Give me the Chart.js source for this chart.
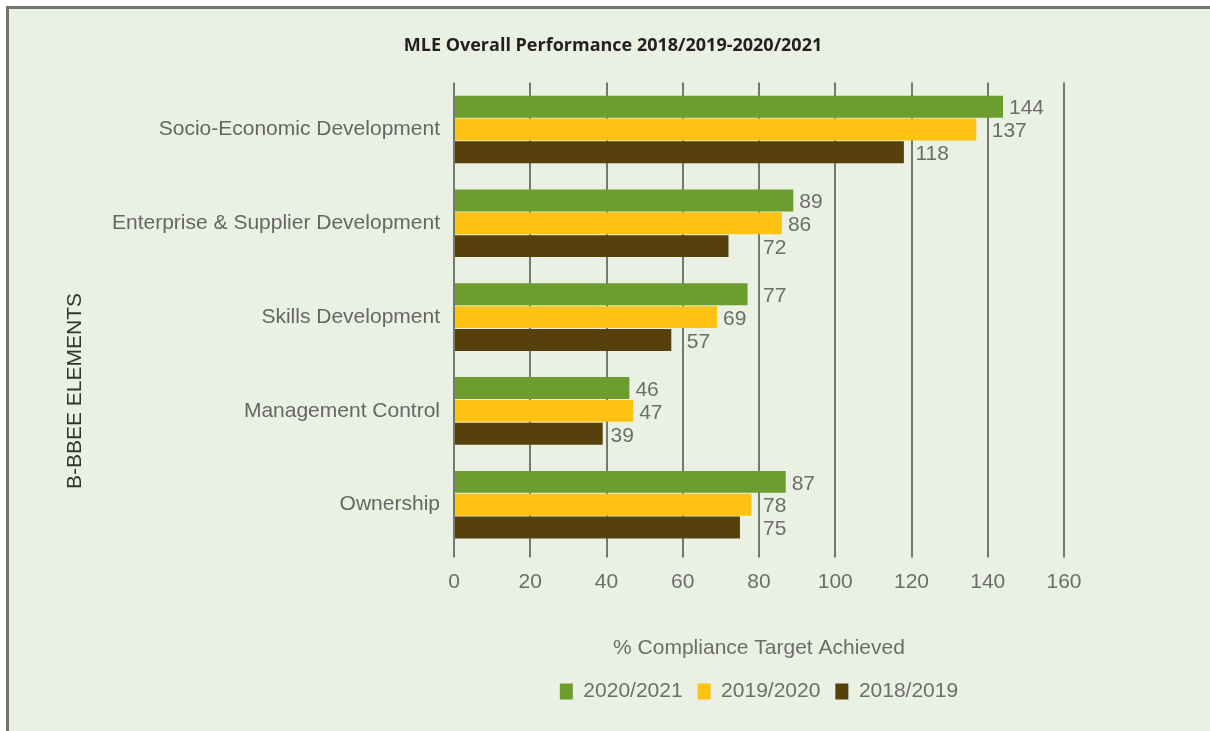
<!DOCTYPE html>
<html>
<head>
<meta charset="utf-8">
<script src="https://cdn.jsdelivr.net/npm/chart.js@4"></script>
<style>
  body { margin: 0; background: #fff; }
  #frame {
    position: absolute; left: 6px; top: 6px; width: 1204px; height: 725px;
    border-top: 3px solid #727272; border-left: 3px solid #727272;
    background: #eaf0e2; box-sizing: border-box;
  }
  #chart { position: absolute; left: 0; top: 0; }
</style>
</head>
<body>
<div id="frame"></div>
<canvas id="chart" width="1210" height="731"></canvas>
<script>
const elements = ['Socio-Economic Development', 'Enterprise & Supplier Development', 'Skills Development', 'Management Control', 'Ownership'];
const years = ['2020/2021', '2019/2020', '2018/2019'];
const values2021 = [144, 89, 77, 46, 87];
const values2020 = [137, 86, 69, 47, 78];
const values2019 = [118, 72, 57, 39, 75];
const colors = ['#6b9e2f', '#fec312', '#57400b'];
const xTicks = [0, 20, 40, 60, 80, 100, 120, 140, 160];
const yTitle = 'B-BBEE ELEMENTS';

const sans = '"Liberation Sans", Arial, sans-serif';
const grey = '#6d6d6d';

// value labels at the end of each bar, nudged past a grid line when they would sit on it
const barLabels = {
    id: 'barLabels',
    afterDatasetsDraw(chart) {
        const ctx = chart.ctx;
        const xScale = chart.scales.x;
        const lines = xTicks.map(v => xScale.getPixelForValue(v));
        ctx.save();
        ctx.font = '21px ' + sans;
        ctx.fillStyle = grey;
        ctx.textAlign = 'left';
        ctx.textBaseline = 'middle';
        chart.data.datasets.forEach((ds, i) => {
            chart.getDatasetMeta(i).data.forEach((bar, j) => {
                const text = String(ds.data[j]);
                const w = ctx.measureText(text).width;
                let x = bar.x + 6;
                const hit = lines.find(g => g > x - 3 && g < x + w + 2);
                if (hit !== undefined) x = hit + 4;
                ctx.fillText(text, x, bar.y + 2);
            });
        });
        ctx.restore();
    }
};

// the vertical axis title sits lower than the middle of the axis in the original
const sideTitle = {
    id: 'sideTitle',
    afterDraw(chart) {
        const ctx = chart.ctx;
        ctx.save();
        ctx.translate(75, 391);
        ctx.rotate(-Math.PI / 2);
        ctx.font = '21px ' + sans;
        ctx.fillStyle = '#333';
        ctx.textAlign = 'center';
        ctx.textBaseline = 'middle';
        ctx.fillText(yTitle, 0, 0);
        ctx.restore();
    }
};

const ctx = document.getElementById('chart').getContext('2d');
new Chart(ctx, {
    type: 'bar',
    data: {
        labels: elements,
        datasets: [
            { label: years[0], data: values2021, backgroundColor: colors[0] },
            { label: years[1], data: values2020, backgroundColor: colors[1] },
            { label: years[2], data: values2019, backgroundColor: colors[2] }
        ]
    },
    options: {
        indexAxis: 'y',
        responsive: false,
        animation: false,
        categoryPercentage: 0.73,
        barPercentage: 0.96,
        layout: { padding: { left: 16, right: 0, top: 21, bottom: 19 } },
        scales: {
            x: {
                min: 0,
                max: 160,
                afterBuildTicks: (scale) => { scale.ticks = xTicks.map(v => ({ value: v })); },
                grid: { color: '#777', lineWidth: 2, tickLength: 6, drawTicks: true },
                border: { display: false },
                ticks: { color: grey, padding: 12, font: { size: 21, family: sans } },
                title: {
                    display: true,
                    text: '% Compliance Target Achieved',
                    color: grey,
                    font: { size: 21, family: sans },
                    padding: { top: 29, bottom: 5 }
                }
            },
            y: {
                afterFit: (scale) => { scale.width = 438; },
                grid: { display: false, drawTicks: false },
                border: { display: false },
                ticks: { color: '#666', padding: 14, font: { size: 21, family: sans } }
            },
            pad: {
                axis: 'y',
                type: 'linear',
                position: 'right',
                afterFit: (scale) => { scale.width = 146; },
                grid: { display: false, drawTicks: false },
                border: { display: false },
                ticks: { display: false }
            }
        },
        plugins: {
            title: {
                display: true,
                text: 'MLE Overall Performance 2018/2019-2020/2021',
                color: '#231f20',
                font: { size: 18, weight: 'bold', family: '"Open Sans", sans-serif' },
                padding: { top: 14, bottom: 26 }
            },
            legend: {
                position: 'bottom',
                fullSize: false,
                labels: {
                    boxWidth: 13,
                    boxHeight: 16,
                    padding: 15,
                    color: grey,
                    font: { size: 21, family: sans }
                }
            },
            tooltip: { enabled: false }
        }
    },
    plugins: [barLabels, sideTitle]
});
</script>
</body>
</html>
